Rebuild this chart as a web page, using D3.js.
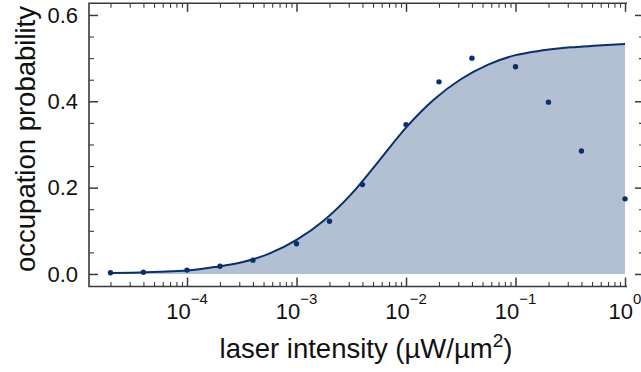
<!DOCTYPE html>
<html>
<head>
<meta charset="utf-8">
<script src="https://cdn.jsdelivr.net/npm/d3@7"></script>
<style>
  body { margin: 0; background: #fff; }
  svg { display: block; font-family: "Liberation Sans", Arial, sans-serif; }
</style>
</head>
<body>
<svg id="chart" width="641" height="372"></svg>
<script>
// measured points
var intensity = [2e-5, 4e-5, 1e-4, 2e-4, 4e-4, 1e-3, 2e-3, 4e-3, 1e-2, 2e-2, 4e-2, 1e-1, 2e-1, 4e-1, 1];
var probability = [0.003, 0.004, 0.009, 0.018, 0.032, 0.070, 0.122, 0.207, 0.346, 0.445, 0.500, 0.480, 0.398, 0.285, 0.174];

// fitted curve (log10 of intensity, quarter decades)
var fitLogI = [-4.7, -4.5, -4.25, -4, -3.75, -3.5, -3.25, -3, -2.75, -2.5, -2.25, -2, -1.75, -1.5, -1.25, -1, -0.75, -0.5, -0.25, 0];
var fitProbability = [0.002, 0.003, 0.005, 0.008, 0.016, 0.027, 0.047, 0.079, 0.124, 0.185, 0.261, 0.339, 0.403, 0.451, 0.485, 0.507, 0.518, 0.525, 0.529, 0.533];

var xMajor = [1e-4, 1e-3, 1e-2, 1e-1, 1];
var xExponents = ["\u22124", "\u22123", "\u22122", "\u22121", "0"];
var yMajor = [0, 0.2, 0.4, 0.6];
var yMinor = [0.05, 0.1, 0.15, 0.25, 0.3, 0.35, 0.45, 0.5, 0.55];

var navy = "#0a2f6b", fillCol = "#b3bfd3", axisCol = "#3a3a3a";

// plot box (window.top is reserved, so no plain "top")
var padL = 89, padR = 627, rightTicks = 644, padT = 3.3, padB = 286.5;

var svg = d3.select("#chart");

// scales
var x = d3.scaleLog()
    .domain([Math.pow(10, -4.895), Math.pow(10, 0.018)])
    .range([padL, padR]);
var y = d3.scaleLinear()
    .domain([-0.029, 0.627])
    .range([padB, padT]);

// minor ticks for the log axis
var xMinor = [];
for (var e = -5; e < 0; e++) {
  for (var k = 2; k <= 9; k++) {
    var v = k * Math.pow(10, e);
    if (v >= x.domain()[0]) xMinor.push(v);
  }
}

var fitData = fitLogI.map(function(d, i) { return {i: Math.pow(10, d), p: fitProbability[i]}; });
var pts = intensity.map(function(d, i) { return {i: d, p: probability[i]}; });

// shaded area under the fit
var area = d3.area()
    .x(function(d) { return x(d.i); })
    .y0(y(0))
    .y1(function(d) { return y(d.p); })
    .curve(d3.curveMonotoneX);
svg.append("path")
    .datum(fitData)
    .attr("fill", fillCol)
    .attr("d", area);

// fit line
var line = d3.line()
    .x(function(d) { return x(d.i); })
    .y(function(d) { return y(d.p); })
    .curve(d3.curveMonotoneX);
svg.append("path")
    .datum(fitData)
    .attr("fill", "none")
    .attr("stroke", navy)
    .attr("stroke-width", 2)
    .attr("d", line);

// points
svg.selectAll("circle.pt")
    .data(pts)
  .enter().append("circle")
    .attr("class", "pt")
    .attr("r", 2.7)
    .attr("fill", navy)
    .attr("cx", function(d) { return x(d.i); })
    .attr("cy", function(d) { return y(d.p); });

function styleAxis(g, w) {
  g.select(".domain").remove();
  g.selectAll(".tick line").attr("stroke", axisCol).attr("stroke-width", w);
}

// bottom ticks (inward)
svg.append("g")
    .attr("transform", "translate(0," + padB + ")")
    .call(d3.axisBottom(x).tickValues(xMajor).tickSize(-9).tickFormat(""))
    .call(styleAxis, 1.5);
svg.append("g")
    .attr("transform", "translate(0," + padB + ")")
    .call(d3.axisBottom(x).tickValues(xMinor).tickSize(-4.5).tickFormat(""))
    .call(styleAxis, 1.1);

// top ticks (inward)
svg.append("g")
    .attr("transform", "translate(0," + padT + ")")
    .call(d3.axisBottom(x).tickValues(xMajor).tickSize(8.5).tickFormat(""))
    .call(styleAxis, 1.5);
svg.append("g")
    .attr("transform", "translate(0," + padT + ")")
    .call(d3.axisBottom(x).tickValues(xMinor).tickSize(4.5).tickFormat(""))
    .call(styleAxis, 1.1);

// left axis
svg.append("g")
    .attr("transform", "translate(" + padL + ",0)")
    .call(d3.axisLeft(y).tickValues(yMajor).tickSize(-9).tickPadding(11).tickFormat(d3.format(".1f")))
    .call(styleAxis, 1.5)
    .call(function(g) {
      g.selectAll(".tick text")
        .attr("fill", "#111")
        .attr("font-size", 22)
        .attr("font-family", "Liberation Sans, Arial, sans-serif");
    });
svg.append("g")
    .attr("transform", "translate(" + padL + ",0)")
    .call(d3.axisLeft(y).tickValues(yMinor).tickSize(-5).tickFormat(""))
    .call(styleAxis, 1.1);

// right ticks (inward, spine sits just off the picture)
svg.append("g")
    .attr("transform", "translate(" + rightTicks + ",0)")
    .call(d3.axisLeft(y).tickValues(yMajor).tickSize(9).tickFormat(""))
    .call(styleAxis, 1.5);
svg.append("g")
    .attr("transform", "translate(" + rightTicks + ",0)")
    .call(d3.axisLeft(y).tickValues(yMinor).tickSize(5).tickFormat(""))
    .call(styleAxis, 1.1);

// spines
svg.append("path")
    .attr("fill", "none")
    .attr("stroke", axisCol)
    .attr("stroke-width", 1.6)
    .attr("d", "M" + padR + "," + padT + "H" + padL + "V" + padB + "H" + padR);

// x tick labels 10^n
var xl = svg.append("g").selectAll("text")
    .data(xMajor)
  .enter().append("text")
    .attr("x", function(d) { return x(d); })
    .attr("y", 319)
    .attr("text-anchor", "middle")
    .attr("fill", "#111")
    .attr("font-size", 22);
xl.append("tspan").text("10");
xl.append("tspan")
    .attr("font-size", 15)
    .attr("dy", -15)
    .text(function(d, i) { return xExponents[i]; });

// axis titles
svg.append("text")
    .attr("x", 366)
    .attr("y", 358)
    .attr("text-anchor", "middle")
    .attr("font-size", 27.5)
    .attr("fill", "#111")
    .call(function(t) {
      t.append("tspan").text("laser intensity (\u00b5W/\u00b5m");
      t.append("tspan").attr("font-size", 19).attr("dy", -11).text("2");
      t.append("tspan").attr("dy", 11).text(")");
    });

svg.append("text")
    .attr("transform", "translate(35,139) rotate(-90)")
    .attr("text-anchor", "middle")
    .attr("font-size", 27.5)
    .attr("fill", "#111")
    .text("occupation probability");
</script>
</body>
</html>
